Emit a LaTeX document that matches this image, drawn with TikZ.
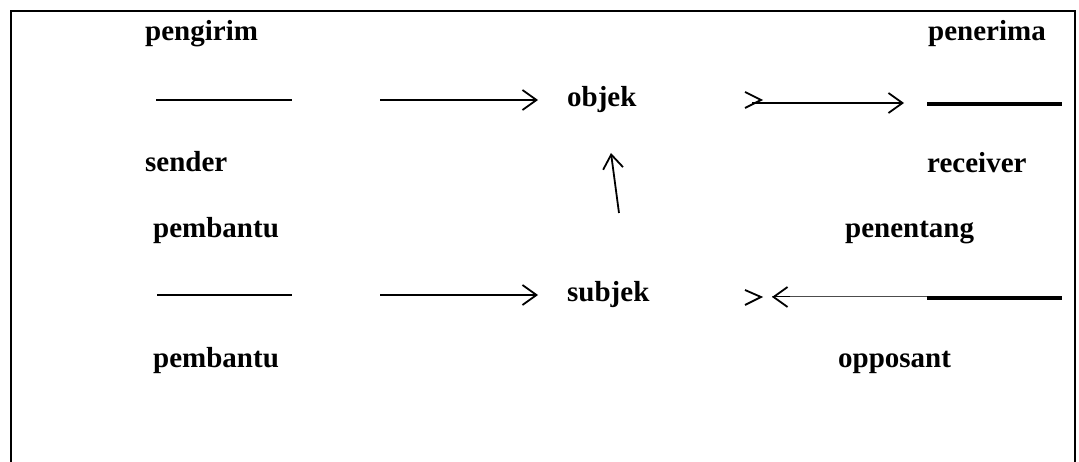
\documentclass[tikz,border=0pt]{standalone}
\usepackage{fontspec}
\setmainfont{Liberation Serif}
\usetikzlibrary{arrows.meta}
\tikzset{
  lbl/.style={anchor=base west, inner sep=0pt, font=\fontsize{29}{34}\selectfont\bfseries},
  slot/.style={line width=1.8pt},
  heavy/.style={line width=3.5pt},
  barb/.tip={Straight Barb[length=14pt,width=20pt,line width=1.8pt]},
  vee/.style={-barb, line width=1.8pt},
  chev/.style={line width=1.8pt},
}
\begin{document}
\begin{tikzpicture}[x=1pt,y=-1pt]
\useasboundingbox (0,0) rectangle (1079,462);
% frame, open at the bottom
\draw[line width=2pt] (11,470) -- (11,11) -- (1075,11) -- (1075,470);

% labels
\node[lbl] (pengirim)  at (145,41)  {pengirim};
\node[lbl] (penerima)  at (928,41)  {penerima};
\node[lbl] (objek)     at (567,107) {objek};
\node[lbl] (sender)    at (145,172) {sender};
\node[lbl] (receiver)  at (927,173) {receiver};
\node[lbl] (pembantuA) at (153,238) {pembantu};
\node[lbl] (penentang) at (845,238) {penentang};
\node[lbl] (subjek)    at (567,302) {subjek};
\node[lbl] (pembantuB) at (153,367) {pembantu};
\node[lbl] (opposant)  at (838,367) {opposant};

% blanks (left column)
\coordinate (b1a) at (156,100); \coordinate (b1b) at (292,100);
\coordinate (b2a) at (157,295); \coordinate (b2b) at (292,295);
\draw[slot] (b1a) -- (b1b);
\draw[slot] (b2a) -- (b2b);

% arrows towards objek and subjek
\coordinate (a1s) at (380,100); \coordinate (a1e) at (538,100);
\coordinate (a2s) at (380,295); \coordinate (a2e) at (538,295);
\draw[vee] (a1s) -- (a1e);
\draw[vee] (a2s) -- (a2e);

% subjek -> objek
\coordinate (vs) at (619,213); \coordinate (ve) at (611,153);
\draw[vee] (vs) -- (ve);

% objek -> receiver
\coordinate (r1s) at (752,103); \coordinate (r1e) at (904,103);
\draw[vee] (r1s) -- (r1e);
\draw[chev] (745,92) -- (761,100) -- (745,108);
\coordinate (h1a) at (927,104); \coordinate (h1b) at (1062,104);
\draw[heavy] (h1a) -- (h1b);

% opposant -> subjek
\coordinate (o1s) at (960,297); \coordinate (o1m) at (790,297); \coordinate (o1e) at (772,297);
\draw[line width=1pt, black!70] (o1s) -- (o1e);
\draw[-barb, line width=1pt] (o1m) -- (o1e);
\draw[chev] (745,290) -- (761,297) -- (745,305);
\coordinate (h2a) at (927,298); \coordinate (h2b) at (1062,298);
\draw[heavy] (h2a) -- (h2b);
\end{tikzpicture}
\end{document}
